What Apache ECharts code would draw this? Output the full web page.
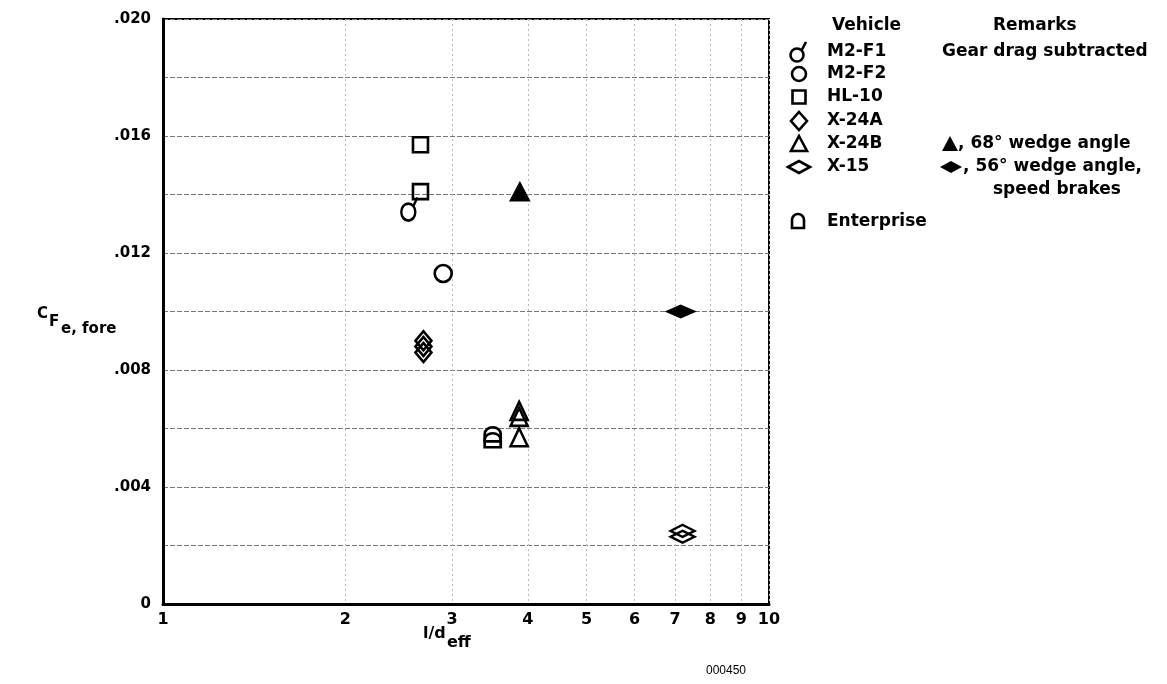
<!DOCTYPE html>
<html>
<head>
<meta charset="utf-8">
<script src="https://cdn.jsdelivr.net/npm/echarts@6/dist/echarts.min.js"></script>
<style>
  html, body { margin: 0; padding: 0; background: #fff; }
  #chart { width: 1167px; height: 684px; }
</style>
</head>
<body>
<div id="chart"></div>
<script>
// Tick values of the logarithmic l/d axis
const xTicks = [1, 2, 3, 4, 5, 6, 7, 8, 9, 10];

// [l/d_eff, C_F e,fore] per vehicle
const m2f1 = [[2.55, 0.0135]];
const m2f2 = [[2.90, 0.0113]];
const hl10 = [[2.66, 0.0157], [2.66, 0.0141]];
const x24a = [[2.69, 0.0090], [2.69, 0.0088], [2.69, 0.0086]];
const x24b = [[3.87, 0.0066], [3.87, 0.0064], [3.87, 0.0057]];
const x24bWedge = [[3.88, 0.0141]];
const x15 = [[7.2, 0.0025], [7.2, 0.0023]];
const x15Wedge = [[7.15, 0.0100]];
const enterprise = [[3.5, 0.0058], [3.5, 0.0056]];

const FONT = '"DejaVu Sans", sans-serif';
const toLog = pts => pts.map(([x, y]) => [Math.log10(x), y]);

// Symbol outlines
const M2F1_PATH = 'path://M0,-10 A10,10 0 1 1 0,10 A10,10 0 1 1 0,-10 Z M7,-7 L13,-17';
const ENTERPRISE_PATH = 'path://M-8,8 L-8,0 A8,7 0 0 1 8,0 L8,8 Z';

const open = { color: 'rgba(0,0,0,0)', borderColor: '#000', borderWidth: 2.6, opacity: 1 };
const solid = { color: '#000', borderColor: '#000', borderWidth: 1, opacity: 1 };

function scatter(name, data, symbol, size, style) {
  return {
    name, type: 'scatter', data: toLog(data), symbol, symbolSize: size,
    symbolKeepAspect: true, itemStyle: style, silent: true,
    emphasis: { disabled: true }, z: 5
  };
}

const chart = echarts.init(document.getElementById('chart'), null, { renderer: 'canvas' });

const txt = (text, x, y, size, extra) => ({
  type: 'text', x, y, silent: true,
  style: Object.assign({ text, font: 'bold ' + size + 'px ' + FONT, fill: '#000', align: 'left', verticalAlign: 'middle' }, extra || {})
});
const stroke = { fill: 'none', stroke: '#000', lineWidth: 2.6 };

const legendGraphics = [
  txt('Vehicle', 832, 26, 17),
  txt('Remarks', 993, 26, 17),
  // M2-F1
  { type: 'circle', shape: { cx: 797, cy: 55, r: 6.5 }, style: stroke },
  { type: 'line', shape: { x1: 801.5, y1: 50.5, x2: 806, y2: 42 }, style: stroke },
  txt('M2-F1', 827, 52, 17),
  txt('Gear drag subtracted', 942, 52, 17),
  // M2-F2
  { type: 'circle', shape: { cx: 799, cy: 74, r: 7 }, style: stroke },
  txt('M2-F2', 827, 74, 17),
  // HL-10
  { type: 'rect', shape: { x: 792.5, y: 90.5, width: 13, height: 13 }, style: stroke },
  txt('HL-10', 827, 97, 17),
  // X-24A
  { type: 'polygon', shape: { points: [[799, 112], [807, 121], [799, 130], [791, 121]] }, style: stroke },
  txt('X-24A', 827, 121, 17),
  // X-24B
  { type: 'polygon', shape: { points: [[799, 136], [807, 151], [791, 151]] }, style: stroke },
  txt('X-24B', 827, 144, 17),
  { type: 'polygon', shape: { points: [[950, 136], [958, 151], [942, 151]] }, style: { fill: '#000' } },
  txt(', 68\u00b0 wedge angle', 958, 144, 17),
  // X-15
  { type: 'polygon', shape: { points: [[788, 167], [799, 161], [810, 167], [799, 173]] }, style: stroke },
  txt('X-15', 827, 167, 17),
  { type: 'polygon', shape: { points: [[940, 167], [951, 161], [962, 167], [951, 173]] }, style: { fill: '#000' } },
  txt(', 56\u00b0 wedge angle,', 963, 167, 17),
  txt('speed brakes', 993, 190, 17),
  // Enterprise
  { type: 'arc', shape: { cx: 798, cy: 220, r: 6, startAngle: Math.PI, endAngle: 2 * Math.PI }, style: stroke },
  { type: 'polyline', shape: { points: [[792, 220], [792, 228], [804, 228], [804, 220]] }, style: stroke },
  txt('Enterprise', 827, 222, 17)
];

const titleGraphics = [
  txt('C', 37, 314, 15),
  txt('F', 49, 322, 15),
  txt('e, fore', 61, 329, 15),
  txt('l/d', 423, 634, 16),
  txt('eff', 447, 643, 16),
  { type: 'text', x: 706, y: 671, silent: true,
    style: { text: '000450', font: '12px "Liberation Sans", sans-serif', fill: '#000', align: 'left', verticalAlign: 'middle' } }
];

chart.setOption({
  backgroundColor: '#fff',
  animation: false,
  grid: { left: 163, right: 398, top: 19, bottom: 80, show: true, borderColor: '#000', borderWidth: 2 },
  xAxis: {
    type: 'value', min: 0, max: 1,
    axisLine: { show: true, onZero: false, lineStyle: { color: '#000', width: 3 } },
    axisTick: { show: false, customValues: xTicks.map(v => Math.log10(v)) },
    axisLabel: {
      customValues: xTicks.map(v => Math.log10(v)),
      formatter: v => String(Math.round(Math.pow(10, v))),
      color: '#000', fontFamily: FONT, fontWeight: 'bold', fontSize: 16, margin: 8
    },
    splitLine: { show: true, lineStyle: { color: '#bbb', width: 1, type: [2, 3] } }
  },
  yAxis: {
    type: 'value', min: 0, max: 0.02, interval: 0.002,
    axisLine: { show: true, onZero: false, lineStyle: { color: '#000', width: 3 } },
    axisTick: { show: false },
    axisLabel: {
      formatter: v => {
        const k = Math.round(v * 1000);
        if (k % 4) return '';
        return k === 0 ? '0' : '.' + String(k).padStart(3, '0');
      },
      color: '#000', fontFamily: FONT, fontWeight: 'bold', fontSize: 15, margin: 12
    },
    splitLine: { show: true, lineStyle: { color: '#777', width: 1, type: [5, 2] } }
  },
  series: [
    scatter('M2-F1', m2f1, M2F1_PATH, [19, 23], open),
    scatter('M2-F2', m2f2, 'circle', 17, open),
    scatter('HL-10', hl10, 'rect', 15, open),
    scatter('X-24A', x24a, 'diamond', [16, 19], open),
    scatter('X-24B', x24b, 'triangle', [17, 18], open),
    scatter('X-24B wedge', x24bWedge, 'triangle', [20, 19], solid),
    scatter('X-15', x15, 'diamond', [24, 12], open),
    scatter('X-15 wedge', x15Wedge, 'diamond', [30, 13], solid),
    scatter('Enterprise', enterprise, ENTERPRISE_PATH, [16, 15], open)
  ],
  graphic: { elements: legendGraphics.concat(titleGraphics) }
});
</script>
</body>
</html>
